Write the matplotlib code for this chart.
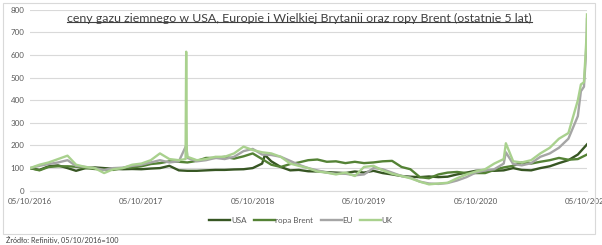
import matplotlib.pyplot as plt
import matplotlib.dates as mdates
from matplotlib.lines import Line2D
from matplotlib.patches import Rectangle
import pandas as pd

plt.rcParams["font.family"] = ["Lato", "DejaVu Sans"]

# monthly readings (5th of each month, 05/10/2016 = 100)
months = pd.date_range("2016-10-01", periods=61, freq="MS") + pd.Timedelta(days=4)

usa = [100, 92, 108, 112, 100, 88, 100, 103, 100, 97, 95, 96,
       95, 98, 100, 110, 90, 88, 88, 90, 92, 92, 94, 95,
       100, 120, 130, 105, 90, 92, 86, 85, 82, 80, 78, 85,
       80, 88, 78, 72, 65, 62, 60, 63, 60, 62, 72, 80,
       88, 90, 88, 90, 100, 92, 90, 100, 108, 122, 135, 160,
       205]
brent = [100, 90, 105, 108, 108, 106, 100, 96, 94, 92, 100, 103,
         108, 118, 122, 130, 128, 125, 132, 145, 145, 150, 142, 152,
         165, 140, 115, 105, 118, 125, 135, 138, 128, 130, 122, 128,
         122, 125, 130, 132, 105, 95, 60, 55, 72, 80, 83, 78,
         78, 78, 92, 103, 110, 125, 120, 128, 135, 145, 137, 140,
         160]
eu = [100, 110, 118, 125, 135, 110, 105, 100, 92, 100, 102, 110,
      115, 125, 135, 125, 130, 145, 130, 135, 145, 140, 150, 175,
      185, 160, 158, 150, 132, 115, 100, 90, 80, 75, 75, 68,
      72, 100, 95, 80, 65, 58, 40, 32, 30, 34, 45, 60,
      80, 90, 95, 120, 118, 112, 122, 150, 165, 190, 230, 330,
      760]
uk = [100, 115, 125, 140, 155, 115, 105, 100, 78, 95, 100, 115,
      120, 135, 165, 140, 135, 150, 135, 140, 150, 150, 165, 195,
      180, 170, 165, 150, 120, 110, 100, 85, 80, 72, 80, 65,
      105, 110, 90, 75, 65, 55, 40, 28, 32, 35, 55, 72,
      85, 95, 120, 140, 130, 125, 135, 165, 190, 230, 255, 400,
      780]

# short-lived spikes between the monthly readings
usa_extra_dates = ["2018-11-14"]
usa_extra = [158]
eu_extra_dates = ["2018-03-01", "2021-01-12", "2021-09-15", "2021-09-25", "2021-10-01", "2021-10-04"]
eu_extra = [200, 170, 440, 460, 590, 680]
uk_extra_dates = ["2018-02-27", "2018-03-01", "2018-03-03", "2021-01-12",
                  "2021-09-15", "2021-09-25", "2021-10-01", "2021-10-04"]
uk_extra = [140, 615, 180, 210, 470, 480, 620, 700]

labels = ["USA", "ropa Brent", "EU", "UK"]
colors = ["#375623", "#548235", "#a5a5a5", "#a9d18e"]


def series(vals, extra_dates=(), extra_vals=()):
    s = pd.Series(vals, index=months)
    if extra_dates:
        s = pd.concat([s, pd.Series(extra_vals, index=pd.to_datetime(list(extra_dates)))])
    return s.sort_index()


data = [series(usa, usa_extra_dates, usa_extra),
        series(brent),
        series(eu, eu_extra_dates, eu_extra),
        series(uk, uk_extra_dates, uk_extra)]

fig = plt.figure(figsize=(6.02, 2.45), dpi=100)
ax = fig.add_axes([30 / 602, 54.3 / 245, 557 / 602, 180.8 / 245])

for s, lab, col in zip(data, labels, colors):
    ax.plot(s.index, s.values, color=col, lw=1.7, label=lab)

ax.set_ylim(0, 800)
ax.set_yticks(range(0, 801, 100))
ax.set_xlim(pd.Timestamp("2016-10-05"), pd.Timestamp("2021-10-05"))
ax.set_xticks(pd.to_datetime(["2016-10-05", "2017-10-05", "2018-10-05",
                              "2019-10-05", "2020-10-05", "2021-10-05"]))
ax.xaxis.set_major_formatter(mdates.DateFormatter("%d/%m/%Y"))
ax.grid(axis="y", color="#d9d9d9", lw=0.8)
ax.set_axisbelow(True)
for side in ["top", "right", "left"]:
    ax.spines[side].set_visible(False)
ax.spines["bottom"].set_color("#d9d9d9")
ax.tick_params(length=0, labelsize=5.8, colors="#595959", pad=4)
ax.tick_params(axis="x", pad=5)

title = fig.text(0.498, 0.925, "ceny gazu ziemnego w USA, Europie i Wielkiej Brytanii oraz ropy Brent (ostatnie 5 lat)",
                 ha="center", va="center", fontsize=8.9, color="#404040")
fig.canvas.draw()
bb = title.get_window_extent().transformed(fig.transFigure.inverted())
fig.add_artist(Line2D([bb.x0, bb.x1], [bb.y0 + 0.008, bb.y0 + 0.008], transform=fig.transFigure,
                      color="#404040", lw=0.8))

fig.legend(loc="center", bbox_to_anchor=(0.5, 0.099), ncol=4, frameon=False, fontsize=5.8,
           handlelength=2.6, handletextpad=0.1, columnspacing=0.9, labelcolor="#595959")

fig.add_artist(Rectangle((3 / 602, 11 / 245), 592 / 602, 231 / 245, transform=fig.transFigure,
                         fill=False, edgecolor="#d9d9d9", lw=0.8))
fig.text(6 / 602, 5 / 245, "Źródło: Refinitiv, 05/10/2016=100", fontsize=5.2, color="#404040",
         ha="left", va="center")

fig.savefig("out.png", dpi=100)
